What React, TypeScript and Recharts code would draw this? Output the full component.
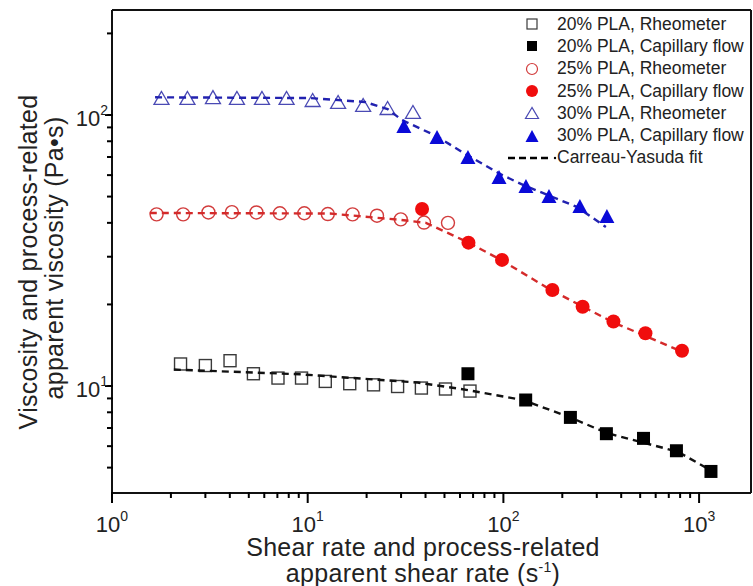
import React from 'react';
import { ComposedChart, Scatter, XAxis, YAxis, ReferenceLine, Legend } from 'recharts';

// ---- data ----
const rheo20X = [2.24, 3.0, 4.01, 5.28, 7.05, 9.3, 12.3, 16.4, 21.7, 28.8, 38.1, 50.6, 67.5];
const rheo20Y = [12.06, 11.9, 12.4, 11.1, 10.7, 10.7, 10.4, 10.2, 10.1, 9.96, 9.83, 9.75, 9.58];
const cap20X = [65.9, 130, 220, 336, 520, 766, 1150];
const cap20Y = [11.1, 8.88, 7.66, 6.67, 6.41, 5.77, 4.84];

const rheo25X = [1.69, 2.31, 3.11, 4.1, 5.47, 7.21, 9.61, 12.67, 16.96, 22.6, 29.9, 39.3, 52.1];
const rheo25Y = [43.0, 43.0, 43.7, 43.8, 43.7, 43.4, 43.4, 43.1, 43.0, 42.5, 41.2, 40.1, 40.0];
const cap25X = [38.4, 66.3, 98.4, 178, 254, 365, 532, 818];
const cap25Y = [45.0, 33.8, 29.2, 22.6, 19.6, 17.3, 15.65, 13.5];

const rheo30X = [1.79, 2.43, 3.28, 4.35, 5.84, 7.8, 10.6, 14.3, 19.2, 25.6, 34.5];
const rheo30Y = [115.6, 115.6, 116.4, 115.6, 115.6, 115.6, 113.6, 111.7, 108.9, 106.1, 102.6];
const cap30X = [31.0, 45.8, 65.9, 95.0, 130.4, 171, 246, 338];
const cap30Y = [91.1, 82.9, 70.0, 59.0, 54.7, 50.2, 46.2, 42.4];

const fit20X = [2.07, 9.13, 36.5, 65.9, 125.7, 216, 337, 780, 1137];
const fit20Y = [11.5, 11.05, 10.3, 9.66, 8.88, 7.7, 6.71, 5.72, 4.9];
const fit25X = [1.56, 13.0, 30.0, 40.2, 65.9, 97.2, 175, 363, 798];
const fit25Y = [43.5, 43.3, 41.0, 40.0, 33.9, 29.2, 22.6, 17.2, 13.5];
const fit30X = [1.66, 10.3, 19.6, 25.6, 30.3, 45.3, 65.2, 96.1, 126, 237.6, 334];
const fit30Y = [116.2, 115.5, 111.7, 105.2, 95.8, 83.7, 71.2, 60.6, 55.2, 45.8, 38.6];

const xMajorTicks = [1, 10, 100, 1000];
const xAllTicks = [1, 2, 3, 4, 5, 6, 7, 8, 9, 10, 20, 30, 40, 50, 60, 70, 80, 90, 100, 200, 300, 400, 500, 600, 700, 800, 900, 1000];
const yMajorTicks = [10, 100];
const yAllTicks = [5, 6, 7, 8, 9, 10, 20, 30, 40, 50, 60, 70, 80, 90, 100, 200];
const majorExp: Record<number, string> = { 1: '0', 10: '1', 100: '2', 1000: '3' };

const legendLabels = [
  '20% PLA, Rheometer',
  '20% PLA, Capillary flow',
  '25% PLA, Rheometer',
  '25% PLA, Capillary flow',
  '30% PLA, Rheometer',
  '30% PLA, Capillary flow',
  'Carreau-Yasuda fit',
];

const X_DOMAIN = [1, 1842];
const Y_DOMAIN = [4.03, 244];

const pts = (xs: number[], ys: number[]) => xs.map((x, i) => ({ x, y: ys[i] }));
// tick-mark positions along the axes (placed through the library's scales)
const xTickMarks = xAllTicks.map((x) => ({ x, y: Y_DOMAIN[0] }));
const yTickMarks = yAllTicks.map((y) => ({ x: X_DOMAIN[0], y }));

const FONT = '"Liberation Sans", Arial, Helvetica, sans-serif';

// ---- colours ----
const C_BLACK = '#111111';
const C_SQ_OPEN = '#3a3a3a';
const C_RED = '#f00d0d';
const C_RED_OPEN = '#d23c3c';
const C_RED_FIT = '#d42a2a';
const C_BLUE = '#0a0ad8';
const C_BLUE_OPEN = '#4a4ab4';
const C_BLUE_FIT = '#2222b0';

// ---- marker shapes ----
const OpenSquare = (p: any) => (
  <rect x={p.cx - 6} y={p.cy - 6} width={12} height={12} fill="none" stroke={C_SQ_OPEN} strokeWidth={1.4} />
);
const FilledSquare = (p: any) => (
  <rect x={p.cx - 6.5} y={p.cy - 6.5} width={13} height={13} fill="#000" />
);
const OpenCircle = (p: any) => (
  <circle cx={p.cx} cy={p.cy} r={6.5} fill="none" stroke={C_RED_OPEN} strokeWidth={1.4} />
);
const FilledCircle = (p: any) => <circle cx={p.cx} cy={p.cy} r={7} fill={C_RED} />;
const triPts = (cx: number, cy: number, w: number, h: number) =>
  `${cx},${cy - h / 2} ${cx - w / 2},${cy + h / 2} ${cx + w / 2},${cy + h / 2}`;
const OpenTri = (p: any) => (
  <polygon points={triPts(p.cx, p.cy, 15, 13)} fill="none" stroke={C_BLUE_OPEN} strokeWidth={1.3} />
);
const FilledTri = (p: any) => <polygon points={triPts(p.cx, p.cy, 15, 14)} fill={C_BLUE} />;
const NoShape = () => <g />;

// tick marks
const XTickMark = (p: any) => {
  const v = p.payload ? p.payload.x : p.x;
  const major = majorExp[v] !== undefined;
  return <line x1={p.cx} x2={p.cx} y1={p.cy - 1} y2={p.cy + (major ? 10 : 5)} stroke="#000" strokeWidth={2} />;
};
const YTickMark = (p: any) => {
  const v = p.payload ? p.payload.y : p.y;
  const major = majorExp[v] !== undefined;
  return <line x1={p.cx - (major ? 7 : 5)} x2={p.cx + 1} y1={p.cy} y2={p.cy} stroke="#000" strokeWidth={2} />;
};

// ---- tick labels (label axes have tickSize 0, so x/y is the axis line) ----
function XTickLabel(props: any) {
  const { x, y, payload } = props;
  const exp = majorExp[payload.value];
  return (
    <text x={x} y={y + 39} textAnchor="middle" fontSize={22} fill="#222" fontFamily={FONT}>
      <tspan>10</tspan>
      <tspan dy={-11} fontSize={14}>{exp}</tspan>
    </text>
  );
}

function YTickLabel(props: any) {
  const { x, y, payload } = props;
  const exp = majorExp[payload.value];
  return (
    <text x={x - 4} y={y + 11} textAnchor="end" fontSize={22} fill="#222" fontFamily={FONT}>
      <tspan>10</tspan>
      <tspan dy={-11} fontSize={14}>{exp}</tspan>
    </text>
  );
}

const XTitle = () => (
  <g fontFamily={FONT} fontSize={25} fill="#222" letterSpacing={0.3}>
    <text x={423} y={556} textAnchor="middle">Shear rate and process-related</text>
    <text x={423} y={582} textAnchor="middle">
      <tspan>apparent shear rate (s</tspan>
      <tspan dy={-10} fontSize={14}>-1</tspan>
      <tspan dy={10}>)</tspan>
    </text>
  </g>
);

const YTitle = () => (
  <g fontFamily={FONT} fontSize={25} fill="#222" letterSpacing={0.3}>
    <text transform="translate(28,262) rotate(-90)" textAnchor="middle" dy="0.35em">
      Viscosity and process-related
    </text>
    <text transform="translate(54,258) rotate(-90)" textAnchor="middle" dy="0.35em">
      apparent viscosity (Pa•s)
    </text>
  </g>
);

function LegendIcon({ i }: { i: number }) {
  const cx = 27;
  const cy = 11;
  let el: any = null;
  if (i === 0) el = <rect x={cx - 5} y={cy - 5} width={10} height={10} fill="none" stroke={C_SQ_OPEN} strokeWidth={1.2} />;
  if (i === 1) el = <rect x={cx - 5} y={cy - 5} width={10} height={10} fill="#000" />;
  if (i === 2) el = <circle cx={cx} cy={cy} r={5.5} fill="none" stroke={C_RED_OPEN} strokeWidth={1.2} />;
  if (i === 3) el = <circle cx={cx} cy={cy} r={6} fill={C_RED} />;
  if (i === 4) el = <polygon points={triPts(cx, cy, 13, 11)} fill="none" stroke={C_BLUE_OPEN} strokeWidth={1.2} />;
  if (i === 5) el = <polygon points={triPts(cx, cy, 13, 12)} fill={C_BLUE} />;
  if (i === 6)
    el = (
      <g>
        <line x1={3} x2={46} y1={cy} y2={cy} stroke="#000" strokeWidth={2.4} strokeDasharray="7 4" />
        <circle cx={50} cy={cy} r={1.2} fill="#000" />
      </g>
    );
  return (
    <svg width={52} height={22} style={{ display: 'block', flex: 'none' }}>
      {el}
    </svg>
  );
}

const LegendBox = () => (
  <div style={{ fontFamily: FONT, fontSize: 17.5, color: '#222' }}>
    {legendLabels.map((t, i) => (
      <div key={t} style={{ display: 'flex', alignItems: 'center', height: 22.3, whiteSpace: 'nowrap' }}>
        <LegendIcon i={i} />
        <span>{t}</span>
      </div>
    ))}
  </div>
);

export default function App() {
  return (
    <div style={{ width: 753, height: 586, background: '#fff' }}>
      <style>{'body{margin:0;background:#fff}'}</style>
      <ComposedChart width={753} height={586} margin={{ top: 10, right: 2, bottom: 0, left: 12 }}>
        {/* data axes with labels */}
        <XAxis
          xAxisId="x"
          dataKey="x"
          type="number"
          scale="log"
          domain={X_DOMAIN}
          allowDataOverflow
          ticks={xMajorTicks}
          interval={0}
          height={93}
          tickSize={0}
          tickMargin={0}
          tickLine={false}
          tick={XTickLabel}
          axisLine={{ stroke: C_BLACK, strokeWidth: 2 }}
          label={{ content: XTitle }}
        />
        <YAxis
          yAxisId="y"
          dataKey="y"
          type="number"
          scale="log"
          domain={Y_DOMAIN}
          allowDataOverflow
          ticks={yMajorTicks}
          interval={0}
          width={100}
          tickSize={0}
          tickMargin={0}
          tickLine={false}
          tick={YTickLabel}
          axisLine={{ stroke: C_BLACK, strokeWidth: 2 }}
          label={{ content: YTitle }}
        />
        {/* hidden zero-size twin axes (no overflow clipping) used to place the tick marks */}
        <XAxis xAxisId="t" dataKey="x" type="number" scale="log" domain={X_DOMAIN} height={0} hide />
        <YAxis yAxisId="t" dataKey="y" type="number" scale="log" domain={Y_DOMAIN} width={0} hide />

        <ReferenceLine xAxisId="x" yAxisId="y" y={Y_DOMAIN[1]} stroke={C_BLACK} strokeWidth={2} ifOverflow="visible" />
        <ReferenceLine xAxisId="x" yAxisId="y" x={X_DOMAIN[1]} stroke={C_BLACK} strokeWidth={2} ifOverflow="visible" />

        <Scatter xAxisId="t" yAxisId="t" name="xticks" data={xTickMarks} shape={XTickMark} legendType="none" isAnimationActive={false} />
        <Scatter xAxisId="t" yAxisId="t" name="yticks" data={yTickMarks} shape={YTickMark} legendType="none" isAnimationActive={false} />

        <Scatter xAxisId="x" yAxisId="y" name="20% PLA, Rheometer" data={pts(rheo20X, rheo20Y)} shape={OpenSquare} isAnimationActive={false} />
        <Scatter xAxisId="x" yAxisId="y" name="25% PLA, Rheometer" data={pts(rheo25X, rheo25Y)} shape={OpenCircle} isAnimationActive={false} />
        <Scatter xAxisId="x" yAxisId="y" name="30% PLA, Rheometer" data={pts(rheo30X, rheo30Y)} shape={OpenTri} isAnimationActive={false} />

        <Scatter xAxisId="x" yAxisId="y" name="fit20" data={pts(fit20X, fit20Y)} shape={NoShape} line={{ stroke: C_BLACK, strokeWidth: 2.4, strokeDasharray: '7 5', fill: 'none' }} isAnimationActive={false} />
        <Scatter xAxisId="x" yAxisId="y" name="fit25" data={pts(fit25X, fit25Y)} shape={NoShape} line={{ stroke: C_RED_FIT, strokeWidth: 2.4, strokeDasharray: '7 5', fill: 'none' }} isAnimationActive={false} />
        <Scatter xAxisId="x" yAxisId="y" name="fit30" data={pts(fit30X, fit30Y)} shape={NoShape} line={{ stroke: C_BLUE_FIT, strokeWidth: 2.4, strokeDasharray: '7 5', fill: 'none' }} isAnimationActive={false} />

        <Scatter xAxisId="x" yAxisId="y" name="20% PLA, Capillary flow" data={pts(cap20X, cap20Y)} shape={FilledSquare} isAnimationActive={false} />
        <Scatter xAxisId="x" yAxisId="y" name="25% PLA, Capillary flow" data={pts(cap25X, cap25Y)} shape={FilledCircle} isAnimationActive={false} />
        <Scatter xAxisId="x" yAxisId="y" name="30% PLA, Capillary flow" data={pts(cap30X, cap30Y)} shape={FilledTri} isAnimationActive={false} />

        <Legend
          layout="vertical"
          align="center"
          verticalAlign="middle"
          content={LegendBox}
          wrapperStyle={{ position: 'absolute', top: 13, left: 505, width: 248, right: 'auto', bottom: 'auto' }}
        />
      </ComposedChart>
    </div>
  );
}
